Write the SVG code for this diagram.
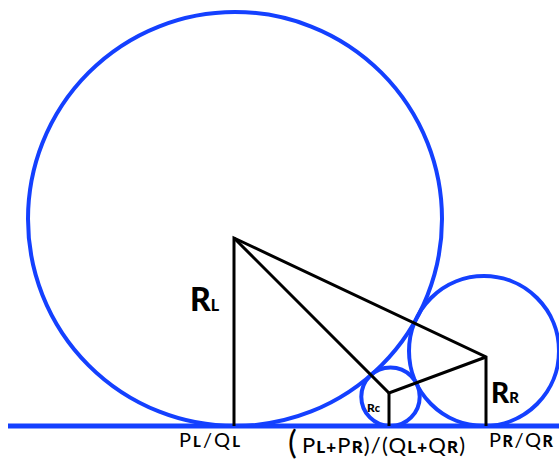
<svg xmlns="http://www.w3.org/2000/svg" width="559" height="462" viewBox="0 0 559 462">
<style>
.c{fill:none;stroke:#1440ff;stroke-width:4}
.g{fill:none;stroke:#1440ff;stroke-width:5}
.k{fill:none;stroke:#000;stroke-width:3;stroke-linejoin:miter}
text{font-family:Lato,"Open Sans","DejaVu Sans",sans-serif;fill:#000}
.b{font-weight:900}
.h{font-weight:900}
</style>
<rect width="559" height="462" fill="#fff"/>
<g id="ground"><line class="g" x1="8" y1="426" x2="559" y2="426"/></g>
<g id="circleL"><circle class="c" cx="235" cy="219" r="207"/></g>
<g id="circleR"><circle class="c" cx="484" cy="351" r="75"/></g>
<g id="circleC"><circle class="c" cx="390.5" cy="396.8" r="29.2"/></g>
<g id="connectors">
<polyline class="k" points="234,426 234,238 486,357 486,426"/>
<polyline class="k" points="234,238 389,393 486,357"/>
<line class="k" x1="389" y1="393" x2="389" y2="426"/>
</g>
<g id="labels">
<text x="190" y="311" class="h" font-size="32">R<tspan font-size="16">L</tspan></text>
<text x="491" y="403" class="h" font-size="28">R<tspan font-size="15">R</tspan></text>
<text x="367" y="412" class="h" font-size="12">R<tspan font-size="11">c</tspan></text>
<text x="179" y="447" font-size="20" textLength="61">P<tspan class="b" font-size="15">L</tspan>/Q<tspan class="b" font-size="15">L</tspan></text>
<text x="288" y="454" font-size="33">(</text>
<text x="302" y="453" font-size="22" textLength="163">P<tspan class="b" font-size="17">L+</tspan>P<tspan class="b" font-size="17">R</tspan>)/(Q<tspan class="b" font-size="17">L+</tspan>Q<tspan class="b" font-size="17">R</tspan>)</text>
<text x="489" y="447" font-size="20" textLength="64">P<tspan class="b" font-size="16">R</tspan>/Q<tspan class="b" font-size="16">R</tspan></text>
</g>
</svg>
